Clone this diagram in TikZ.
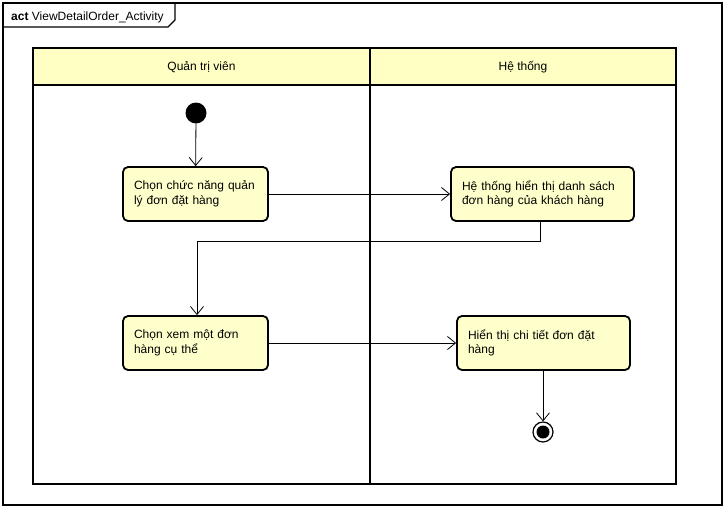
\documentclass[tikz,border=0pt]{standalone}
\usepackage{fontspec}
\setmainfont{Liberation Sans}
\usetikzlibrary{arrows.meta}
\definecolor{actfill}{HTML}{FFFFCC}
\definecolor{lanefill}{HTML}{FFFFC4}
\begin{document}
\begin{tikzpicture}[x=1pt,y=-1pt,
  txt/.style={font=\fontsize{12}{14.5}\selectfont},
  action/.style={txt, draw=black, line width=1.8pt, fill=actfill, rounded corners=5pt,
    align=left, inner sep=0pt},
  flow/.style={draw=black, line width=0.8pt, -{Straight Barb[length=8pt,width=13pt,line width=0.8pt]}},
  lane/.style={draw=black, line width=1.8pt}
]
\useasboundingbox (0,0) rectangle (727,509);

% diagram frame and name tab
\draw[line width=1.2pt] (3,3) rectangle (722,505);
\draw[line width=1.2pt] (3,27) -- (168,27) -- (175,20) -- (175,3);
\node[txt, anchor=base west, inner sep=0pt] (title) at (11,20) {\textbf{act} ViewDetailOrder\_Activity};

% swimlanes
\fill[lanefill] (33,48) rectangle (676,85);
\draw[lane] (33,48) rectangle (676,484);
\draw[lane] (33,85) -- (676,85);
\draw[lane] (370,48) -- (370,484);
\node[txt] (laneA) at (201.5,67) {Quản trị viên};
\node[txt] (laneB) at (523,67) {Hệ thống};

% nodes
\node[circle, fill=black, minimum size=21pt, inner sep=0pt] (start) at (196,113) {};
\node[action, minimum width=145pt, minimum height=54pt, text width=123pt] (a1) at (195.5,194)
  {Chọn chức năng quản\\lý đơn đặt hàng};
\node[action, minimum width=183pt, minimum height=54pt, text width=161pt] (a2) at (542.5,194)
  {Hệ thống hiển thị danh sách\\đơn hàng của khách hàng};
\node[action, minimum width=145pt, minimum height=54pt, text width=123pt] (a3) at (195.5,343)
  {Chọn xem một đơn\\hàng cụ thể};
\node[action, minimum width=173pt, minimum height=54pt, text width=151pt] (a4) at (543.5,343)
  {Hiển thị chi tiết đơn đặt\\hàng};
\node[circle, draw=black, line width=1.2pt, fill=white, minimum size=20pt, inner sep=0pt] (end) at (543,432) {};
\node[circle, fill=black, minimum size=13pt, inner sep=0pt] (endcore) at (end.center) {};

% control flows
\coordinate (b1) at (540,241);
\coordinate (b2) at (197,241);
\draw[flow] (start) -- (a1);
\draw[flow] (a1) -- (a2);
\draw[flow] (a2.south -| b1) -- (b1) -- (b2) -- (b2 |- a3.north);
\draw[flow] (a3) -- (a4);
\draw[flow] (a4.south -| end) -- (end);
\end{tikzpicture}
\end{document}
